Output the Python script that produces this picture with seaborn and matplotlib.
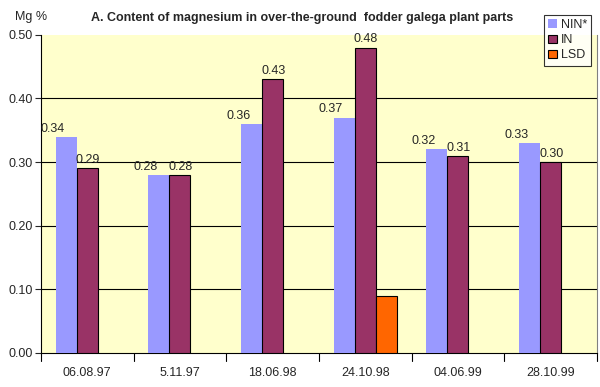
import pandas as pd
import numpy as np
import matplotlib
matplotlib.use("Agg")
import matplotlib.pyplot as plt
import seaborn as sns

dates = ["06.08.97", "5.11.97", "18.06.98", "24.10.98", "04.06.99", "28.10.99"]
nin = [0.34, 0.28, 0.36, 0.37, 0.32, 0.33]
in_ = [0.29, 0.28, 0.43, 0.48, 0.31, 0.30]
lsd = [np.nan, np.nan, np.nan, 0.09, np.nan, np.nan]

df = pd.DataFrame({
    "date": dates * 3,
    "series": ["NIN*"] * 6 + ["IN"] * 6 + ["LSD"] * 6,
    "value": nin + in_ + lsd,
})

sns.set_style("white")
plt.rcParams["font.family"] = ["Liberation Sans", "DejaVu Sans"]

fig = plt.figure(figsize=(6, 3.87), dpi=100)
ax = fig.add_axes([0.068, 0.088, 0.927, 0.822])
ax.set_facecolor("#FFFFCC")

sns.barplot(data=df, x="date", y="value", hue="series", order=dates,
            hue_order=["NIN*", "IN", "LSD"],
            palette=["#9999FF", "#993366", "#FF6600"], saturation=1,
            width=0.68, gap=0, edgecolor="black", linewidth=0.8,
            errorbar=None, ax=ax, zorder=3)

# the NIN* bars have no outline in the original
for bar in ax.containers[0]:
    bar.set_edgecolor("none")

# value labels (Excel puts the NIN* labels a bit to the left)
for c, dx in zip(ax.containers[:2], [-9.5, 0.5]):
    for bar in c:
        h = bar.get_height()
        ax.annotate(f"{h:.2f}", (bar.get_x() + bar.get_width() / 2, h),
                    xytext=(dx, 1.5), textcoords="offset points",
                    ha="center", va="bottom", fontsize=9)

ax.set_ylim(0, 0.5)
ax.set_yticks(np.arange(0, 0.51, 0.1))
ax.set_yticklabels([f"{v:.2f}" for v in np.arange(0, 0.51, 0.1)], fontsize=9)
ax.tick_params(axis="x", labelsize=9, length=0, pad=10)
ax.tick_params(axis="y", length=4, direction="out", left=True, pad=2)
for yv in [0.1, 0.2, 0.3, 0.4]:
    ax.axhline(yv, color="black", linewidth=0.8, zorder=1)

# category boundary ticks on x axis
for xb in np.arange(-0.5, len(dates), 1.0):
    ax.plot([xb, xb], [0, -0.012], color="black", linewidth=0.8, clip_on=False)
ax.set_xlim(-0.5, len(dates) - 0.5)

ax.set_xlabel("")
ax.set_ylabel("")
ax.spines["top"].set_visible(False)
for s in ["left", "bottom"]:
    ax.spines[s].set_color("black")
    ax.spines[s].set_linewidth(0.8)
ax.spines["right"].set_color("#808080")
ax.spines["right"].set_linewidth(0.8)

fig.text(0.025, 0.955, "Mg %", fontsize=9, va="center")
fig.text(0.503, 0.953, "A. Content of magnesium in over-the-ground  fodder galega plant parts",
         fontsize=9, fontweight="bold", ha="center", va="center")

leg = ax.legend(title=None, loc="upper right", bbox_to_anchor=(0.99, 1.063),
                fontsize=9, frameon=True, fancybox=False, edgecolor="black",
                handlelength=0.7, handleheight=0.7, handletextpad=0.3,
                borderpad=0.35, labelspacing=0.25, borderaxespad=0)
leg.get_frame().set_linewidth(0.8)
for h, ec in zip(leg.legend_handles, ["none", "black", "black"]):
    h.set_edgecolor(ec)

fig.savefig("out.png", dpi=100, facecolor="white")
